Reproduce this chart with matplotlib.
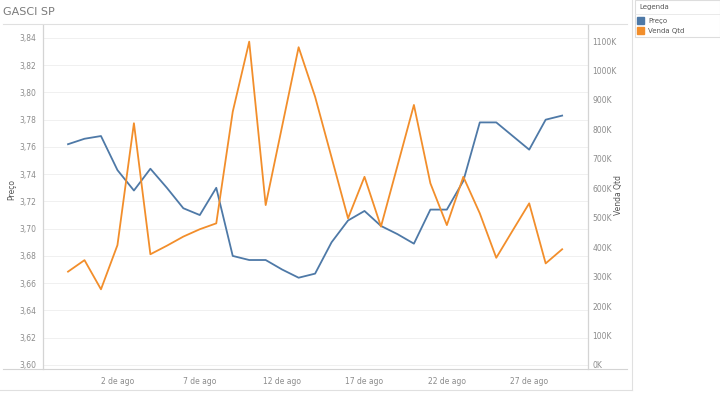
import numpy as np
import pandas as pd
import matplotlib
matplotlib.use("Agg")
from matplotlib import pyplot as plt
from matplotlib.lines import Line2D
from matplotlib.patches import Rectangle
from matplotlib.ticker import FuncFormatter

# dados (30 jul - 29 ago)
dias = pd.date_range("2019-07-30", "2019-08-29", freq="D")
preco = [3.762, 3.766, 3.768, 3.743, 3.728, 3.744, 3.730, 3.715, 3.710, 3.730,
         3.680, 3.677, 3.677, 3.670, 3.664, 3.667, 3.690, 3.706, 3.713, 3.702,
         3.696, 3.689, 3.714, 3.714, 3.735, 3.778, 3.778, 3.768, 3.758, 3.780,
         3.783]
venda_qtd = [317, 356, 257, 407, 821, 376, 405, 436, 461, 481,
             860, 1098, 543, 811, 1079, 911, 705, 498, 639, 470,
             676, 883, 617, 475, 639, 515, 364, 457, 549, 345,
             393]
venda_qtd = [v * 1000 for v in venda_qtd]
ticks_x = pd.to_datetime(["2019-08-02", "2019-08-07", "2019-08-12",
                          "2019-08-17", "2019-08-22", "2019-08-27"])
ticks_x_labels = ["2 de ago", "7 de ago", "12 de ago", "17 de ago", "22 de ago", "27 de ago"]

azul = "#4e79a7"
laranja = "#f28e2b"
cinza_txt = "#8c8c8c"
cinza_linha = "#d4d4d4"

W, H = 720, 393
fig = plt.figure(figsize=(W / 100, H / 100), dpi=100)

def fx(px):
    return px / W

def fy(py):
    return 1 - py / H

ax = fig.add_axes([fx(43), fy(369), fx(588) - fx(43), fy(25) - fy(369)])
ax2 = ax.twinx()

ax.plot(dias, preco, color=azul, lw=1.3, zorder=3)
ax2.plot(dias, venda_qtd, color=laranja, lw=1.3, zorder=3)

ax.set_ylim(3.597, 3.8495)
ax2.set_ylim(-13600, 1154500)
x0 = pd.Timestamp("2019-07-28") + pd.Timedelta(hours=0.48 * 24)
x1 = pd.Timestamp("2019-08-30") + pd.Timedelta(hours=0.57 * 24)
ax.set_xlim(x0, x1)

ax.set_yticks(np.arange(3.60, 3.8401, 0.02))
ax.yaxis.set_major_formatter(FuncFormatter(lambda v, p: ("%.2f" % v).replace(".", ",")))
ax2.set_yticks(np.arange(0, 1100001, 100000))
ax2.yaxis.set_major_formatter(FuncFormatter(lambda v, p: "%dK" % round(v / 1000)))
ax.set_xticks(ticks_x)
ax.set_xticklabels(ticks_x_labels)

for a in (ax, ax2):
    a.tick_params(length=0, labelsize=5.5, labelcolor=cinza_txt)
    for s in a.spines.values():
        s.set_color(cinza_linha)
        s.set_linewidth(0.8)
    a.spines["top"].set_visible(False)
    a.spines["bottom"].set_visible(False)
ax.tick_params(axis="y", pad=5)
ax.tick_params(axis="x", pad=6)
ax2.tick_params(axis="y", pad=3)
ax.grid(axis="y", color="#f0f0f0", lw=0.7)
ax.set_axisbelow(True)

fig.text(fx(12), fy(190), "Preço", rotation=90, ha="center", va="center",
         fontsize=5.5, color="#555555")
fig.text(fx(619), fy(195), "Venda Qtd", rotation=90, ha="center", va="center",
         fontsize=5.5, color="#555555")

fig.text(fx(3), fy(12), "GASCI SP", ha="left", va="center", fontsize=8, color="#7a7a7a")

# moldura e separadores
fig.add_artist(Line2D([fx(3), fx(627)], [fy(24), fy(24)], color="#e0e0e0", lw=0.8))
fig.add_artist(Line2D([fx(3), fx(627)], [fy(369), fy(369)], color=cinza_linha, lw=0.8))
fig.add_artist(Line2D([fx(631.5), fx(631.5)], [fy(0), fy(390)], color="#e0e0e0", lw=0.8))
fig.add_artist(Line2D([fx(0), fx(631.5)], [fy(390), fy(390)], color="#e0e0e0", lw=0.8))

# legenda
fig.add_artist(Rectangle((fx(635), fy(37)), fx(720) - fx(635), fy(0) - fy(37),
                         fill=False, edgecolor="#dddddd", lw=0.8))
fig.add_artist(Line2D([fx(635), fx(720)], [fy(14), fy(14)], color="#e6e6e6", lw=0.6))
fig.text(fx(639), fy(7), "Legenda", ha="left", va="center", fontsize=5, color="#555555")
fig.add_artist(Rectangle((fx(637), fy(24)), fx(7), fy(0) - fy(7), color=azul))
fig.text(fx(648), fy(20.5), "Preço", ha="left", va="center", fontsize=5, color="#555555")
fig.add_artist(Rectangle((fx(637), fy(34)), fx(7), fy(0) - fy(7), color=laranja))
fig.text(fx(648), fy(30.5), "Venda Qtd", ha="left", va="center", fontsize=5, color="#555555")

fig.savefig("out.png", dpi=100)
